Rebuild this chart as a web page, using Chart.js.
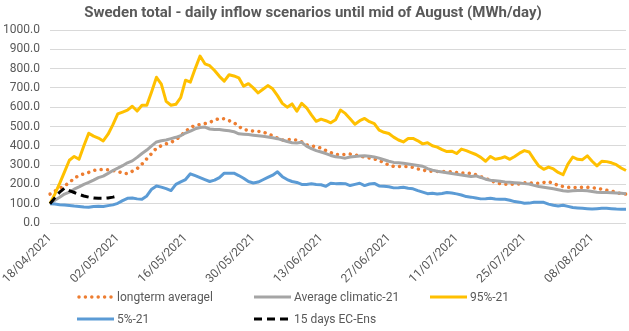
<!DOCTYPE html>
<html>
<head>
<meta charset="utf-8">
<script src="https://cdn.jsdelivr.net/npm/chart.js@4"></script>
<style>
html, body { margin: 0; padding: 0; background: #fff; }
#wrap { position: relative; width: 629px; height: 331px; }
.item { position: absolute; display: flex; align-items: center; white-space: nowrap;
        font: 12px Roboto, sans-serif; color: #595959; height: 12px; }
.item svg { margin-right: 3px; }
</style>
</head>
<body>
<div id="wrap">
  <canvas id="chart" width="629" height="331"></canvas>
  <div id="legend"></div>
</div>
<script>
// x axis: one category per day, 18/04/2021 .. 15/08/2021
const dates = [];
for (let d = new Date(2021, 3, 18); d <= new Date(2021, 7, 15); d.setDate(d.getDate() + 1)) {
    dates.push(String(d.getDate()).padStart(2, '0') + '/' + String(d.getMonth() + 1).padStart(2, '0') + '/' + d.getFullYear());
}
const tickLabels = ['18/04/2021', '02/05/2021', '16/05/2021', '30/05/2021', '13/06/2021',
    '27/06/2021', '11/07/2021', '25/07/2021', '08/08/2021'];
const yTicks = [0, 100, 200, 300, 400, 500, 600, 700, 800, 900, 1000];

const longterm = [150, 165, 180, 192, 210, 232, 246, 255, 262, 272, 276, 277, 276, 272, 268, 258, 256, 268, 282, 305,
    333, 360, 388, 400, 410, 418, 430, 452, 475, 495, 505, 510, 515, 522, 532, 542, 540, 530, 520, 500,
    485, 480, 476, 475, 472, 462, 452, 440, 430, 432, 432, 430, 420, 405, 399, 396, 388, 375, 365, 355,
    354, 355, 357, 352, 348, 341, 337, 332, 324, 312, 300, 293, 293, 293, 292, 288, 280, 274, 270, 268,
    267, 267, 267, 265, 262, 259, 258, 257, 250, 240, 230, 222, 210, 204, 201, 201, 201, 202, 208, 208,
    206, 206, 210, 214, 205, 195, 189, 185, 184, 184, 185, 185, 183, 180, 175, 170, 166, 158, 152, 150];
const climatic = [100, 118, 133, 150, 160, 175, 187, 200, 210, 222, 235, 243, 257, 272, 284, 297, 312, 322, 340, 360,
    378, 400, 420, 426, 430, 437, 444, 452, 466, 476, 488, 495, 497, 487, 484, 484, 481, 478, 473, 462,
    460, 458, 455, 452, 449, 446, 442, 437, 430, 422, 416, 414, 418, 398, 385, 375, 368, 360, 350, 343,
    340, 336, 342, 345, 347, 348, 346, 342, 336, 328, 320, 314, 312, 310, 306, 302, 298, 294, 282, 274,
    268, 264, 260, 256, 252, 249, 245, 241, 244, 236, 227, 222, 219, 216, 213, 211, 209, 207, 204, 202,
    195, 189, 185, 181, 177, 172, 167, 164, 167, 168, 168, 167, 163, 159, 158, 158, 157, 156, 154, 152];
const p95 = [100, 150, 205, 265, 325, 345, 330, 400, 465, 450, 440, 425, 460, 510, 565, 575, 585, 605, 580, 610,
    610, 680, 755, 720, 630, 610, 615, 650, 740, 730, 800, 865, 825, 815, 790, 760, 735, 768, 762, 752,
    709, 722, 700, 674, 693, 712, 695, 660, 620, 600, 617, 579, 620, 597, 560, 527, 538, 530, 519, 535,
    585, 568, 540, 512, 530, 542, 525, 515, 481, 470, 464, 445, 430, 420, 438, 438, 426, 410, 416, 400,
    393, 380, 370, 372, 360, 383, 375, 365, 355, 340, 320, 345, 330, 335, 343, 330, 345, 362, 375, 368,
    330, 295, 278, 290, 280, 262, 250, 305, 342, 330, 328, 348, 320, 296, 320, 318, 312, 302, 285, 272];
const p5 = [100, 98, 95, 93, 91, 88, 86, 83, 82, 86, 87, 85, 90, 94, 102, 116, 128, 130, 125, 123,
    140, 175, 192, 186, 178, 168, 200, 213, 225, 255, 245, 235, 225, 215, 222, 235, 258, 258, 258, 246,
    232, 215, 207, 212, 224, 236, 248, 265, 240, 225, 215, 210, 200, 200, 203, 200, 198, 190, 206, 204,
    205, 204, 194, 200, 206, 194, 202, 205, 192, 190, 188, 182, 183, 185, 180, 177, 168, 160, 152, 154,
    150, 153, 158, 155, 151, 145, 137, 134, 130, 125, 126, 128, 124, 123, 123, 118, 111, 108, 102, 103,
    107, 107, 107, 98, 92, 88, 92, 86, 80, 78, 76, 74, 72, 74, 76, 76, 74, 72, 71, 71];
const ecEns = [100, 130, 160, 180, 168, 158, 148, 140, 134, 130, 128, 128, 130, 134, 140];

const series = [
    { label: 'longterm averagel', data: longterm, color: '#ED7D31', width: 3.5, dash: [0.001, 6.4], cap: 'round' },
    { label: 'Average climatic-21', data: climatic, color: '#A5A5A5', width: 3, dash: [], cap: 'butt' },
    { label: '95%-21', data: p95, color: '#FFC000', width: 3, dash: [], cap: 'butt' },
    { label: '5%-21', data: p5, color: '#5B9BD5', width: 3, dash: [], cap: 'butt' },
    { label: '15 days EC-Ens', data: ecEns, color: '#000000', width: 3, dash: [8, 5], cap: 'butt' }
];

const font = { family: 'Roboto', size: 12 };
const grey = '#595959';

const chart = new Chart(document.getElementById('chart'), {
    type: 'line',
    data: {
        labels: dates,
        datasets: series.map((s, i) => ({
            label: s.label,
            data: s.data,
            borderColor: s.color,
            backgroundColor: s.color,
            borderWidth: s.width,
            borderDash: s.dash,
            borderCapStyle: s.cap,
            borderJoinStyle: 'round',
            pointRadius: 0,
            tension: 0,
            fill: false,
            order: series.length - i
        }))
    },
    options: {
        responsive: false,
        animation: false,
        layout: { padding: { left: 0, right: 3, top: 0, bottom: 45 } },
        plugins: {
            legend: { display: false },
            tooltip: { enabled: false },
            title: {
                display: true,
                text: 'Sweden total - daily inflow scenarios until mid of August (MWh/day)',
                color: grey,
                font: { family: 'Roboto', size: 15, weight: 'bold' },
                padding: { top: 4, bottom: 8 }
            }
        },
        scales: {
            x: {
                grid: { display: false },
                border: { display: false },
                ticks: {
                    autoSkip: false, minRotation: 45, maxRotation: 45, padding: 0,
                    color: grey, font: font,
                    callback: (v, i) => tickLabels.includes(dates[i]) ? dates[i] : ''
                },
                afterFit: s => { s.height = 63; s.paddingLeft = 0; s.paddingRight = 0; }
            },
            y: {
                min: 0, max: 1000,
                afterBuildTicks: s => { s.ticks = yTicks.map(v => ({ value: v })); },
                grid: { color: '#D9D9D9', drawTicks: false },
                border: { display: false },
                ticks: { color: grey, font: font, padding: 10, callback: v => Number(v).toFixed(1) },
                afterFit: s => { s.width = 50; }
            }
        }
    }
});

// legend laid out like the original: two rows, fixed columns
const legendPos = [[77, 297], [254, 297], [430, 297], [77, 319], [254, 319]];
const legend = document.getElementById('legend');
series.forEach((s, i) => {
    const div = document.createElement('div');
    div.className = 'item';
    div.style.left = legendPos[i][0] + 'px';
    div.style.top = (legendPos[i][1] - 6) + 'px';
    const dash = s.dash.length ? `stroke-dasharray="${s.dash.join(' ')}"` : '';
    div.innerHTML = `<svg width="37" height="8"><line x1="${s.cap === 'round' ? 2 : 0}" y1="4" x2="37" y2="4" stroke="${s.color}" stroke-width="${s.width}" stroke-linecap="${s.cap}" ${dash}/></svg><span>${s.label}</span>`;
    legend.appendChild(div);
});
</script>
</body>
</html>
